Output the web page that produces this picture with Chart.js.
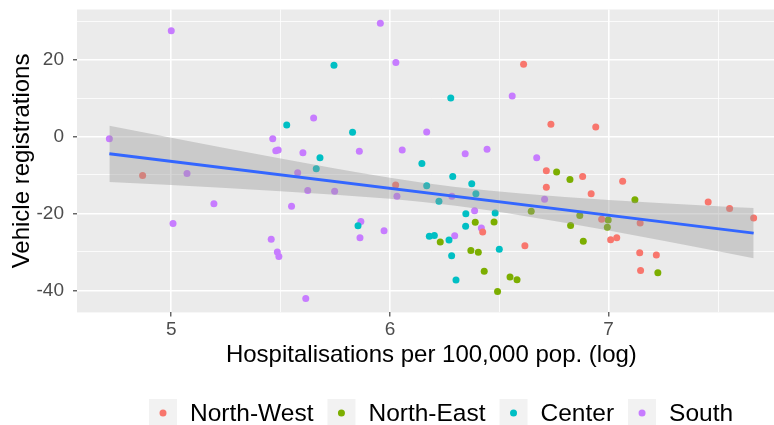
<!DOCTYPE html>
<html>
<head>
<meta charset="utf-8">
<script src="https://cdn.jsdelivr.net/npm/chart.js@4.4.1/dist/chart.umd.min.js"></script>
<style>
  html, body { margin: 0; padding: 0; background: #fff; overflow: hidden; }
  #wrap { width: 792px; height: 425px; }
</style>
</head>
<body>
<div id="wrap"><canvas id="chart" width="792" height="425"></canvas></div>
<script>
'use strict';

// groups and colours (ggplot hue palette)
const groups = ['North-West', 'North-East', 'Center', 'South'];
const groupColors = ['#F8766D', '#7CAE00', '#00BFC4', '#C77CFF'];

// points: x = log hospitalisations, y = vehicle registrations
const nwX = [4.869, 6.026, 6.611, 6.736, 6.941, 6.715, 6.881, 6.715, 6.920, 6.968, 6.424, 6.617, 7.064, 7.455, 7.553, 7.663, 7.144, 7.009, 7.037, 7.142, 7.218, 7.146];
const nwY = [-10.1, -12.6, 18.8, 3.2, 2.5, -8.9, -10.4, -13.2, -14.9, -21.5, -24.8, -28.4, -11.6, -17.0, -18.7, -21.2, -22.5, -26.8, -26.3, -30.2, -30.8, -34.8];

const neX = [6.762, 6.823, 6.646, 6.868, 6.390, 6.476, 6.826, 6.230, 6.884, 6.370, 6.404, 6.431, 6.549, 6.581, 6.492, 7.120, 6.998, 6.994, 7.225];
const neY = [-9.2, -11.2, -19.4, -20.5, -22.3, -22.2, -23.1, -27.4, -27.2, -29.6, -30.1, -35.0, -36.5, -37.2, -40.3, -16.4, -21.7, -23.6, -35.4];

const ceX = [5.744, 5.528, 5.829, 5.680, 6.146, 5.663, 6.168, 5.854, 6.180, 6.203, 6.278, 6.287, 6.374, 6.393, 6.224, 6.347, 6.481, 6.346, 6.270, 6.500, 6.282, 6.302];
const ceY = [18.5, 3.0, 1.1, -5.5, -7.0, -8.4, -12.8, -23.2, -25.9, -25.7, 10.0, -10.4, -12.3, -14.9, -16.8, -20.1, -19.9, -23.3, -26.9, -29.3, -31.0, -37.3];

const soX = [5.000, 4.717, 5.072, 5.195, 5.008, 5.956, 6.027, 5.651, 6.168, 5.464, 5.478, 5.489, 5.602, 5.860, 6.056, 5.578, 5.624, 5.747, 6.032, 5.550, 5.867, 5.973, 5.863, 5.457, 5.485, 5.492, 5.615, 6.559, 6.344, 6.444, 6.671, 6.283, 6.707, 6.387, 6.418, 6.296];
const soY = [27.5, -0.6, -9.6, -17.5, -22.6, 29.4, 19.2, 4.8, 1.2, -0.6, -3.7, -3.5, -4.2, -3.8, -3.5, -9.4, -14.0, -14.2, -15.5, -18.1, -22.1, -24.5, -26.3, -26.7, -30.0, -31.2, -42.1, 10.5, -4.5, -3.3, -5.5, -15.5, -16.3, -19.3, -23.8, -25.8];

// linear fit and its confidence band
const fitX = [4.717, 7.663];
const fitY = [-4.5, -25.1];
const bandX = [4.717, 5.0, 5.5, 6.0, 6.3, 6.6, 7.0, 7.5, 7.663];
const bandUpper = [2.8, -0.3, -5.7, -10.7, -13.1, -14.8, -16.5, -18.1, -18.6];
const bandLower = [-11.8, -12.6, -14.2, -16.2, -18.0, -20.5, -24.4, -29.8, -31.6];

// axes
const xMin = 4.569, xMax = 7.81;
const yMin = -45.7, yMax = 33.0;
const xTicks = [5, 5.5, 6, 6.5, 7, 7.5];
const xMajor = [5, 6, 7];
const yTicks = [-40, -30, -20, -10, 0, 10, 20, 30];
const yMajor = [-40, -20, 0, 20];

const FONT = "'Liberation Sans', Arial, Helvetica, sans-serif";
Chart.defaults.font.family = FONT;

const pts = (xs, ys) => xs.map((x, i) => ({ x, y: ys[i] }));
const pointSets = [[nwX, nwY], [neX, neY], [ceX, ceY], [soX, soY]];

const datasets = pointSets.map((p, i) => ({
  type: 'scatter',
  label: groups[i],
  data: pts(p[0], p[1]),
  backgroundColor: groupColors[i],
  borderWidth: 0,
  pointRadius: 3.5,
  pointHoverRadius: 3.5,
  order: 2,
}));

datasets.push({
  type: 'line',
  label: 'upper',
  data: pts(bandX, bandUpper),
  borderWidth: 0,
  pointRadius: 0,
  cubicInterpolationMode: 'monotone',
  backgroundColor: 'rgba(153,153,153,0.4)',
  fill: '+1',
  order: 1,
});
datasets.push({
  type: 'line',
  label: 'lower',
  data: pts(bandX, bandLower),
  borderWidth: 0,
  pointRadius: 0,
  cubicInterpolationMode: 'monotone',
  fill: false,
  order: 1,
});
datasets.push({
  type: 'line',
  label: 'fit',
  data: pts(fitX, fitY),
  borderColor: '#3366FF',
  borderWidth: 3,
  pointRadius: 0,
  fill: false,
  order: 0,
});

const panelBg = {
  id: 'panelBg',
  beforeDraw(chart) {
    const { ctx, chartArea: a } = chart;
    ctx.save();
    ctx.fillStyle = '#EBEBEB';
    ctx.fillRect(a.left, a.top, a.right - a.left, a.bottom - a.top);
    ctx.restore();
  },
};

// ggplot-style legend below the plot
const ggLegend = {
  id: 'ggLegend',
  afterDraw(chart) {
    const { ctx } = chart;
    const cy = 413, key = 28, gap = 14, textGap = 13;
    let x = 149;
    ctx.save();
    ctx.font = '24.5px ' + FONT;
    ctx.textBaseline = 'middle';
    groups.forEach((g, i) => {
      ctx.fillStyle = '#F2F2F2';
      ctx.fillRect(x, cy - key / 2, key, key);
      ctx.fillStyle = groupColors[i];
      ctx.beginPath();
      ctx.arc(x + key / 2, cy, 3.5, 0, Math.PI * 2);
      ctx.fill();
      ctx.fillStyle = '#000';
      const tx = x + key + textGap;
      ctx.fillText(g, tx, cy + 1);
      x = tx + ctx.measureText(g).width + gap;
    });
    ctx.restore();
  },
};

const isIn = (arr, v) => arr.some(m => Math.abs(m - v) < 1e-9);

new Chart(document.getElementById('chart'), {
  type: 'scatter',
  data: { datasets },
  plugins: [panelBg, ggLegend],
  options: {
    responsive: false,
    animation: false,
    events: [],
    layout: { padding: { left: 0, top: 9.5, right: 6.2, bottom: 52 } },
    plugins: {
      legend: { display: false },
      tooltip: { enabled: false },
    },
    scales: {
      x: {
        type: 'linear',
        min: xMin,
        max: xMax,
        afterBuildTicks: (s) => { s.ticks = xTicks.map(v => ({ value: v })); },
        afterFit: (s) => { s.height = 60.6; s.paddingLeft = 0; s.paddingRight = 0; },
        border: { display: false },
        grid: {
          color: '#FFFFFF',
          lineWidth: (c) => (c.tick && isIn(xMajor, c.tick.value) ? 1.6 : 0.8),
          tickLength: 4,
          tickWidth: 1.1,
          tickColor: (c) => (c.tick && isIn(xMajor, c.tick.value) ? '#333333' : 'rgba(0,0,0,0)'),
        },
        ticks: {
          color: '#4D4D4D',
          font: { size: 19 },
          padding: 2,
          maxRotation: 0,
          autoSkip: false,
          callback: (v) => (isIn(xMajor, v) ? String(v) : ''),
        },
        title: {
          display: true,
          text: 'Hospitalisations per 100,000 pop. (log)',
          color: '#000',
          font: { size: 24 },
          padding: { top: 0, bottom: 3 },
        },
      },
      y: {
        type: 'linear',
        min: yMin,
        max: yMax,
        afterBuildTicks: (s) => { s.ticks = yTicks.map(v => ({ value: v })); },
        afterFit: (s) => { s.width = 77; s.paddingTop = 0; s.paddingBottom = 0; },
        border: { display: false },
        grid: {
          color: '#FFFFFF',
          lineWidth: (c) => (c.tick && isIn(yMajor, c.tick.value) ? 1.6 : 0.8),
          tickLength: 4,
          tickWidth: 1.1,
          tickColor: (c) => (c.tick && isIn(yMajor, c.tick.value) ? '#333333' : 'rgba(0,0,0,0)'),
        },
        ticks: {
          color: '#4D4D4D',
          font: { size: 19 },
          padding: 9,
          autoSkip: false,
          callback: (v) => (isIn(yMajor, v) ? String(v) : ''),
        },
        title: {
          display: true,
          text: 'Vehicle registrations',
          color: '#000',
          font: { size: 24 },
          padding: { top: 8, bottom: 0 },
        },
      },
    },
  },
});
</script>
</body>
</html>
